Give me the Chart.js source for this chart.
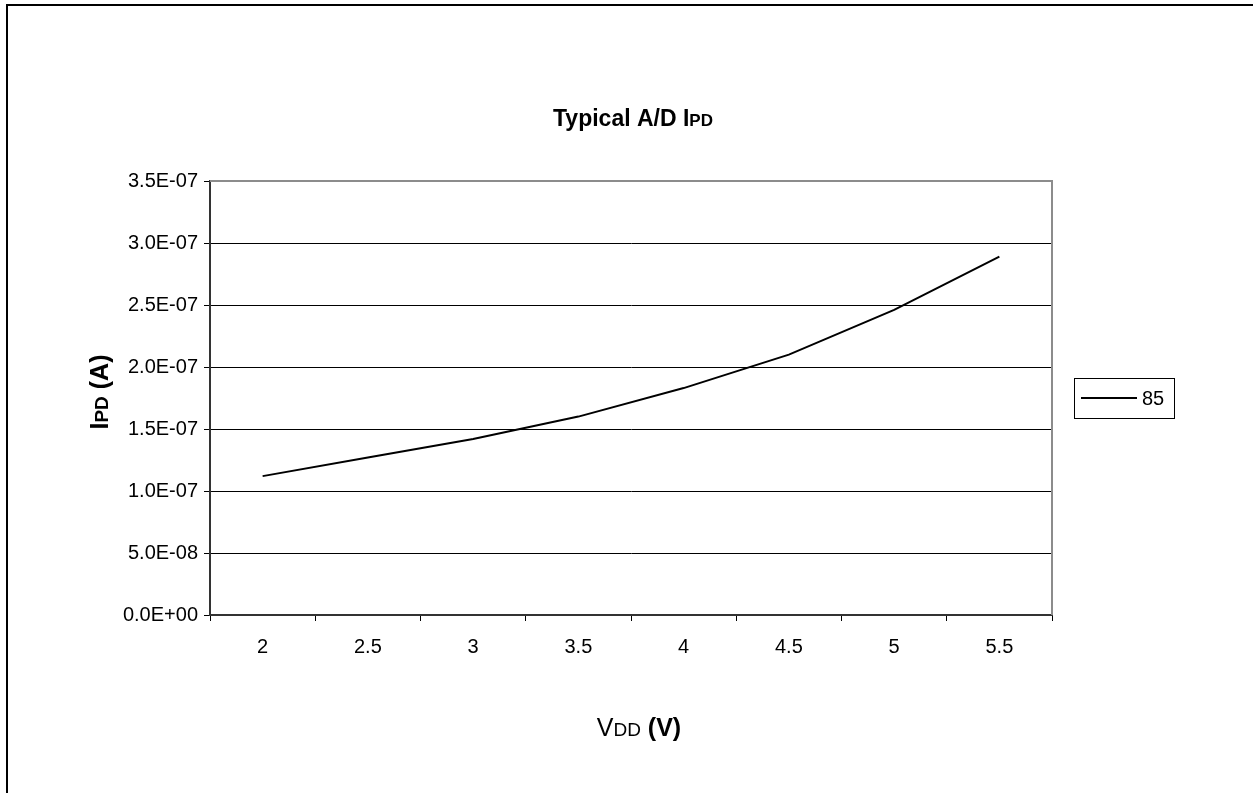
<!DOCTYPE html>
<html>
<head>
<meta charset="utf-8">
<script src="https://cdn.jsdelivr.net/npm/chart.js@4.4.1/dist/chart.umd.min.js"></script>
<style>
  html, body { margin: 0; padding: 0; background: #fff; }
  canvas { display: block; }
</style>
</head>
<body>
<canvas id="graphCanvas" width="1253" height="793"></canvas>
<script>
// values
const vddLabels = ['2', '2.5', '3', '3.5', '4', '4.5', '5', '5.5'];
const ipd85 = [1.12e-7, 1.27e-7, 1.42e-7, 1.60e-7, 1.83e-7, 2.10e-7, 2.46e-7, 2.89e-7];
const seriesName = '85';
const yMin = 0;
const yMax = 3.5e-7;
const yStep = 5e-8;

const FONT = 'Arial, "Liberation Sans", sans-serif';

function sciLabel(v) {
    const parts = Number(v).toExponential(1).split('e');
    let exp = parseInt(parts[1], 10);
    const sign = exp < 0 ? '-' : '+';
    exp = Math.abs(exp);
    return parts[0] + 'E' + sign + (exp < 10 ? '0' : '') + exp;
}

// draws a row of text pieces with different fonts, centred on x
function drawRuns(c, runs, x, y) {
    let total = 0;
    runs.forEach(r => { c.font = r.font; total += c.measureText(r.text).width; });
    let cx = x - total / 2;
    c.textAlign = 'left';
    c.textBaseline = 'alphabetic';
    runs.forEach(r => {
        c.font = r.font;
        c.fillText(r.text, cx, y);
        cx += c.measureText(r.text).width;
    });
}

const decorations = {
    id: 'decorations',
    beforeDraw(chart) {
        const c = chart.ctx;
        c.save();
        c.fillStyle = '#fff';
        c.fillRect(0, 0, chart.width, chart.height);
        c.restore();
    },
    afterDraw(chart) {
        const c = chart.ctx;
        const a = chart.chartArea;
        c.save();
        c.fillStyle = '#000';

        // outer frame
        c.fillRect(6, 4, chart.width - 6, 2);
        c.fillRect(6, 4, 2, chart.height - 4);

        // grey top and right edge of plot area
        c.strokeStyle = '#8c8c8c';
        c.lineWidth = 2;
        c.beginPath();
        c.moveTo(a.left, a.top);
        c.lineTo(a.right, a.top);
        c.lineTo(a.right, a.bottom);
        c.stroke();

        // title
        drawRuns(c, [
            {text: 'Typical A/D I', font: 'bold 23px ' + FONT},
            {text: 'PD', font: 'bold 17px ' + FONT}
        ], (a.left + a.right) / 2 + 2, 126);

        // x title
        drawRuns(c, [
            {text: 'V', font: '25px ' + FONT},
            {text: 'DD', font: '19px ' + FONT},
            {text: ' (V)', font: 'bold 25px ' + FONT}
        ], (a.left + a.right) / 2 + 8, 736);

        // y title
        c.save();
        c.translate(108, (a.top + a.bottom) / 2 - 6);
        c.rotate(-Math.PI / 2);
        drawRuns(c, [
            {text: 'I', font: 'bold 25px ' + FONT},
            {text: 'PD', font: 'bold 19px ' + FONT},
            {text: ' (A)', font: 'bold 25px ' + FONT}
        ], 0, 0);
        c.restore();

        // legend
        c.strokeStyle = '#000';
        c.lineWidth = 1;
        c.strokeRect(1074.5, 378.5, 100, 40);
        c.lineWidth = 2;
        c.beginPath();
        c.moveTo(1081, 398);
        c.lineTo(1137, 398);
        c.stroke();
        c.font = '20px ' + FONT;
        c.textAlign = 'left';
        c.textBaseline = 'middle';
        c.fillText(chart.data.datasets[0].label, 1142, 399);

        c.restore();
    }
};

const ctx = document.getElementById('graphCanvas');

const chart = new Chart(ctx, {
    type: 'line',
    data: {
        labels: vddLabels,
        datasets: [{
            label: seriesName,
            data: ipd85,
            borderColor: '#000',
            borderWidth: 2,
            pointRadius: 0,
            tension: 0,
            fill: false
        }]
    },
    options: {
        responsive: false,
        animation: false,
        devicePixelRatio: 1,
        layout: {
            padding: {left: 0, top: 181, right: 201, bottom: 128}
        },
        scales: {
            x: {
                type: 'category',
                offset: true,
                afterFit(scale) { scale.height = 50; },
                grid: {
                    offset: true,
                    drawOnChartArea: false,
                    tickLength: 6,
                    tickColor: '#000'
                },
                border: {color: '#333', width: 2},
                ticks: {
                    color: '#000',
                    font: {family: FONT, size: 20},
                    padding: 14,
                    maxRotation: 0,
                    autoSkip: false
                }
            },
            y: {
                min: yMin,
                max: yMax,
                afterFit(scale) { scale.width = 210; },
                grid: {
                    color: c => (c.tick && c.tick.value >= yMax - 1e-12) ? 'rgba(0,0,0,0)' : '#000',
                    lineWidth: 1,
                    tickLength: 6,
                    tickColor: '#000'
                },
                border: {color: '#333', width: 2},
                ticks: {
                    stepSize: yStep,
                    color: '#000',
                    font: {family: FONT, size: 20},
                    padding: 6,
                    callback: v => sciLabel(v)
                }
            }
        },
        plugins: {
            legend: {display: false},
            tooltip: {enabled: false},
            title: {display: false}
        }
    },
    plugins: [decorations]
});
</script>
</body>
</html>
